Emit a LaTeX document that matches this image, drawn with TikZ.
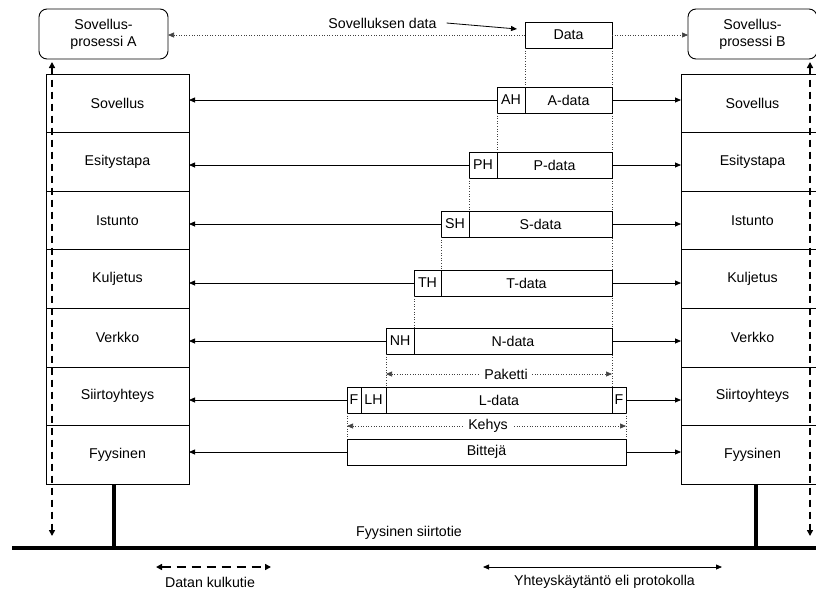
\documentclass[tikz,border=0pt]{standalone}
\usepackage{fontspec}
\setmainfont{Liberation Sans}
\usetikzlibrary{arrows.meta}
\begin{document}
\begin{tikzpicture}[x=1pt,y=-1pt,
  font=\fontsize{14.2}{17}\selectfont,
  every node/.style={inner sep=0pt, outer sep=0pt},
  layer/.style={draw, line width=0.9pt, minimum width=143pt, minimum height=58.6pt},
  proc/.style={draw, line width=0.9pt, rounded corners=8pt, minimum width=129pt,
    minimum height=50pt, align=center},
  pkt/.style={draw, line width=0.9pt, minimum height=26pt, fill=white},
  tip/.style={-{Triangle[length=6pt,width=5pt]}},
  link/.style={line width=0.8pt, tip},
  guide/.style={dotted, line width=0.6pt, black!75},
  flow/.style={line width=1.6pt, dash pattern=on 7pt off 5pt,
    {Triangle[length=6pt,width=6pt]}-{Triangle[length=6pt,width=6pt]}},
  medium/.style={line width=3.5pt}]
\clip (0,0) rectangle (816,592);

% application processes
\node[proc] (PA) at (103.5,34) {Sovellus-\\prosessi A};
\node[proc] (PB) at (752.5,34) {Sovellus-\\prosessi B};

% the two protocol stacks
\foreach \t [count=\i] in {Sovellus,Esitystapa,Istunto,Kuljetus,Verkko,Siirtoyhteys,Fyysinen}{
  \node[layer] (L\i) at (117.5,{74+58.6*(\i-0.5)}) {\t};
  \node[layer] (R\i) at (752.5,{74+58.6*(\i-0.5)}) {\t};
}

% right-hand guide line behind the data units
\draw[guide] (612,48) -- (612,387);

% data units, one row per layer
\node[pkt, minimum width=87pt] (D) at (568.5,35) {Data};

\node[pkt, minimum width=28pt] (AH) at (511,100) {AH};
\node[pkt, minimum width=87pt] (AD) at (568.5,100) {A-data};

\node[pkt, minimum width=28pt] (PH) at (483,165) {PH};
\node[pkt, minimum width=115pt] (PD) at (554.5,165) {P-data};

\node[pkt, minimum width=28pt] (SH) at (455,224) {SH};
\node[pkt, minimum width=143pt] (SD) at (540.5,224) {S-data};

\node[pkt, minimum width=27pt] (TH) at (427.5,283) {TH};
\node[pkt, minimum width=171pt] (TD) at (526.5,283) {T-data};

\node[pkt, minimum width=28pt] (NH) at (400,341) {NH};
\node[pkt, minimum width=198pt] (ND) at (513,341) {N-data};

\node[pkt, minimum width=14pt] (F1) at (354,400) {F};
\node[pkt, minimum width=25pt] (LH) at (373.5,400) {LH};
\node[pkt, minimum width=226pt] (LD) at (499,400) {L-data};
\node[pkt, minimum width=14pt] (F2) at (619,400) {F};

\node[pkt, minimum width=279pt] (B) at (486.5,452) {Bittejä};

% guides from each header down to the row below
\draw[guide] (D.south west) -- (AH.north east);
\draw[guide] (AH.south west) -- (PH.north east);
\draw[guide] (PH.south west) -- (SH.north east);
\draw[guide] (SH.south west) -- (TH.north east);
\draw[guide] (TH.south west) -- (NH.north east);
\draw[guide] (NH.south west) -- (LH.north east);
\draw[guide] (F1.south west) -- (B.north west);
\draw[guide] (F2.south east) -- (B.north east);

% packet and frame extents
\draw[guide, {Triangle[length=6pt,width=5pt]}-{Triangle[length=6pt,width=5pt]}]
  (NH.south west |- 0,374) -- (ND.south east |- 0,374);
\node[fill=white, inner xsep=4pt, inner ysep=2pt] (pk) at (506,374) {Paketti};
\draw[guide, {Triangle[length=6pt,width=5pt]}-{Triangle[length=6pt,width=5pt]}]
  (F1.south west |- 0,426) -- (F2.south east |- 0,426);
\node[fill=white, inner xsep=4pt, inner ysep=2pt] (kh) at (488,426) {Kehys};

% peer connections between the stacks
\draw[guide, tip] (D.west) -- (D.west -| PA.east);
\draw[guide, tip] (D.east) -- (D.east -| PB.west);
\foreach \h/\d/\i in {AH/AD/1,PH/PD/2,SH/SD/3,TH/TD/4,NH/ND/5,F1/F2/6,B/B/7}{
  \draw[link] (\h.west) -- (\h.west -| L\i.east);
  \draw[link] (\d.east) -- (\d.east -| R\i.west);
}

% label for the application data
\node (sd) at (382.5,23) {Sovelluksen data};
\coordinate (sdend) at (517,29);
\draw[link] (sd.east) ++(10,0) -- (sdend);

% data paths through the stacks
\coordinate (fa1) at (52,62);
\coordinate (fa2) at (52,536);
\coordinate (fb1) at (810,62);
\coordinate (fb2) at (810,536);
\draw[flow] (fa1) -- (fa2);
\draw[flow] (fb1) -- (fb2);

% physical medium
\coordinate (m1) at (12,548);
\coordinate (m2) at (816,548);
\draw[medium] (m1) -- (m2);
\draw[medium] (114,484.2) -- (114,548);
\draw[medium] (756,484.2) -- (756,548);
\node (med) at (409,533) {Fyysinen siirtotie};

% legend
\coordinate (k1) at (156,567);
\coordinate (k2) at (271,567);
\draw[flow, dash pattern=on 9pt off 6pt] (k1) -- (k2);
\node (kt) at (210,582) {Datan kulkutie};
\coordinate (p1) at (483,567);
\coordinate (p2) at (722,567);
\draw[line width=0.8pt, {Triangle[length=6pt,width=5pt]}-{Triangle[length=6pt,width=5pt]}] (p1) -- (p2);
\node (pt) at (604.5,582) {Yhteyskäytäntö eli protokolla};
\end{tikzpicture}
\end{document}
